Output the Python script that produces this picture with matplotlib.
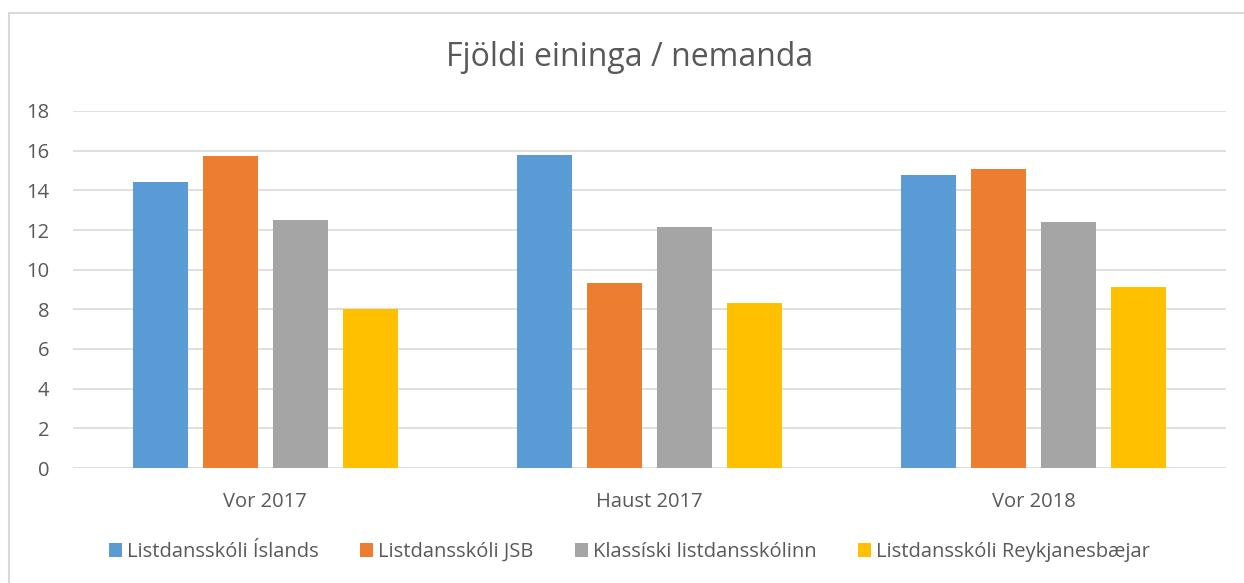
import numpy as np
import matplotlib
matplotlib.use('Agg')
import matplotlib.pyplot as plt
from matplotlib.lines import Line2D

plt.rcParams['font.family'] = ['Open Sans', 'DejaVu Sans']

categories = ['Vor 2017', 'Haust 2017', 'Vor 2018']
series_names = ['Listdansskóli Íslands', 'Listdansskóli JSB',
                'Klassíski listdansskólinn', 'Listdansskóli Reykjanesbæjar']
islands = [14.43, 15.76, 14.77]
jsb = [15.74, 9.35, 15.1]
klassiski = [12.48, 12.16, 12.38]
reykjanes = [8.0, 8.32, 9.15]
colors = ['#5b9bd5', '#ed7d31', '#a5a5a5', '#ffc000']
yticks = [0, 2, 4, 6, 8, 10, 12, 14, 16, 18]

text_col = '#595959'

fig = plt.figure(figsize=(12.44, 5.83), dpi=100)
ax = fig.add_axes([73 / 1244, 1 - 468 / 583, (1226 - 73) / 1244, (468 - 111) / 583])

x = np.arange(len(categories))
step = 70 / 384
width = 55 / 384
for i, (vals, name) in enumerate(zip([islands, jsb, klassiski, reykjanes], series_names)):
    ax.bar(x + (i - 1.5) * step, vals, width, color=colors[i], label=name, zorder=3)

ax.set_xlim(-0.5, 2.5)
ax.set_ylim(0, 18)
ax.set_yticks(yticks)
ax.set_xticks(x)
ax.set_xticklabels(categories)
ax.yaxis.grid(True, color='#d9d9d9', linewidth=1.2, zorder=0)
ax.tick_params(axis='both', length=0, labelsize=14.5, colors=text_col)
ax.tick_params(axis='y', pad=17)
ax.tick_params(axis='x', pad=17)
for s in ax.spines.values():
    s.set_visible(False)

fig.text(0.506, 1 - 57 / 583, 'Fjöldi eininga / nemanda', ha='center', va='center',
         fontsize=23, color=text_col)

fig.legend(loc='center', bbox_to_anchor=(0.506, 1 - 552 / 583), ncol=4, frameon=False,
           fontsize=14.5, labelcolor=text_col, handlelength=0.65, handleheight=0.65,
           handletextpad=0.25, columnspacing=2.05)

# chart frame (left and top edges visible)
fig.add_artist(Line2D([8.5 / 1244, 8.5 / 1244], [0, 1 - 12.5 / 583], color='#d9d9d9', linewidth=1.5))
fig.add_artist(Line2D([8.5 / 1244, 1], [1 - 12.5 / 583, 1 - 12.5 / 583], color='#d9d9d9', linewidth=1.5))

fig.savefig('out.png', dpi=100)
